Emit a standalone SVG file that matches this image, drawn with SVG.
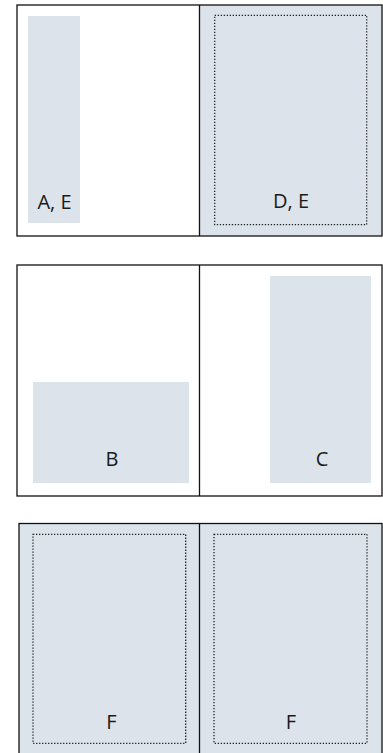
<svg xmlns="http://www.w3.org/2000/svg" width="383" height="753" viewBox="0 0 383 753">
<style>
.frame{fill:none;stroke:#111;stroke-width:1.3}
.div{stroke:#111;stroke-width:1.3}
.shade{fill:#dce3eb}
.dot{fill:none;stroke:#222;stroke-width:1.3;stroke-dasharray:1.3 1.7}
.lbl{font-family:"Open Sans","Noto Sans",sans-serif;font-size:20px;fill:#1a1a1a;text-anchor:middle}
</style>
<rect width="383" height="753" fill="#fff"/>
<g id="panel-top">
  <rect class="shade" x="199.5" y="5" width="182.5" height="231"/>
  <rect class="shade" x="28" y="16" width="52" height="207"/>
  <rect class="dot" x="214.7" y="15.3" width="152" height="209.4"/>
  <rect class="frame" x="17" y="5" width="365" height="231"/>
  <line class="div" x1="199.5" y1="5" x2="199.5" y2="236"/>
  <text class="lbl" x="54.5" y="208.5">A, E</text>
  <text class="lbl" x="291" y="207.5">D, E</text>
</g>
<g id="panel-middle">
  <rect class="shade" x="33" y="382" width="156" height="101"/>
  <rect class="shade" x="270" y="276" width="101" height="207"/>
  <rect class="frame" x="17" y="265" width="365" height="231"/>
  <line class="div" x1="199.5" y1="265" x2="199.5" y2="496"/>
  <text class="lbl" x="112" y="466">B</text>
  <text class="lbl" x="322" y="466">C</text>
</g>
<g id="panel-bottom">
  <rect class="shade" x="19" y="523.5" width="363" height="235"/>
  <rect class="dot" x="33" y="534.3" width="152.7" height="209"/>
  <rect class="dot" x="214" y="534.3" width="153" height="209"/>
  <rect class="frame" x="19" y="523.5" width="363" height="235"/>
  <line class="div" x1="199.5" y1="523.5" x2="199.5" y2="758"/>
  <text class="lbl" x="111.5" y="728.5">F</text>
  <text class="lbl" x="291" y="728.5">F</text>
</g>
<g id="connectors"></g>
</svg>
